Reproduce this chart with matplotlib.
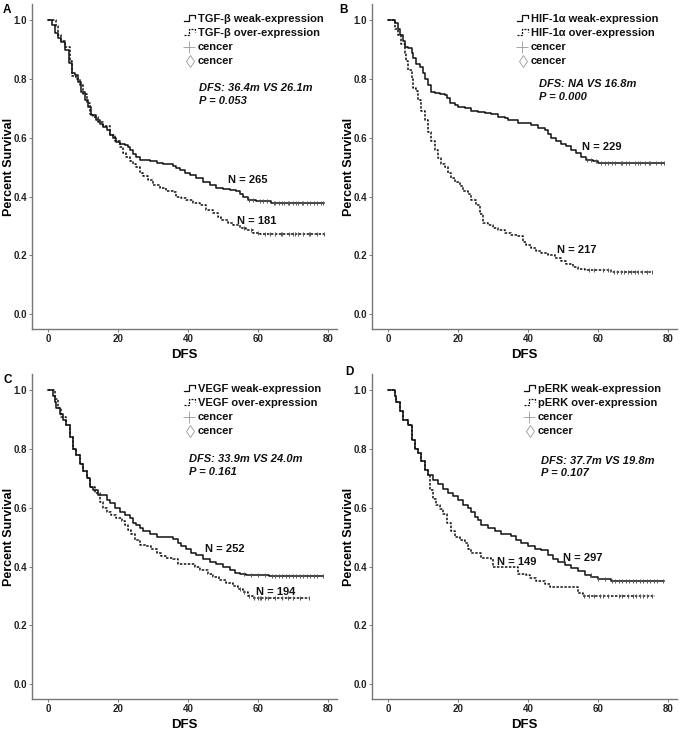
import numpy as np
import matplotlib.pyplot as plt

# ── Style ─────────────────────────────────────────────────────────────────────
plt.rcParams.update({
    "font.family":      ["Liberation Sans", "DejaVu Sans"],
    "font.weight":      "bold",
    "axes.linewidth":   1.0,
    "axes.edgecolor":   "#777777",
    "axes.spines.top":  False,
    "axes.spines.right": False,
    "xtick.major.size": 2,
    "ytick.major.size": 2,
    "xtick.color":      "#666666",
    "ytick.color":      "#666666",
})

# ── Data (months, survival fraction) ─────────────────────────────────────────
A_WEAK_T = [0, 1.2, 1.9, 2.9, 3.8, 4.8, 6.0, 6.7, 7.6, 8.6, 9.5, 10.5, 11.4, 12.4, 13.8,
            14.8, 15.7, 16.7, 17.6, 18.6, 19.5, 20.5, 21.9, 22.9, 23.3, 24.3, 25.2, 26.2,
            27.1, 29.0, 31.0, 32.9, 35.7, 36.7, 37.6, 39.0, 40.5, 42.4, 44.3, 46.2, 48.1,
            50.0, 51.9, 53.8, 54.8, 55.7, 57.1, 59.5, 63.8]
A_WEAK_S = [1.0, 0.983, 0.955, 0.938, 0.926, 0.898, 0.853, 0.82, 0.813, 0.79, 0.756, 0.728,
            0.705, 0.677, 0.66, 0.648, 0.637, 0.626, 0.609, 0.598, 0.586, 0.578, 0.575, 0.57,
            0.558, 0.544, 0.535, 0.526, 0.524, 0.522, 0.515, 0.51, 0.505, 0.499, 0.49, 0.481,
            0.473, 0.462, 0.45, 0.439, 0.431, 0.425, 0.422, 0.418, 0.41, 0.399, 0.388, 0.385,
            0.38]
A_WEAK_END = 79.0
A_WEAK_CENS = [57.5, 58.5, 60.5, 61.5, 62.5, 64.5, 65, 66, 67, 67.5, 68.5, 69, 70, 71, 71.5,
               72.5, 73, 74, 75, 76, 77, 78, 78.7]

A_OVER_T = [0, 2.4, 2.9, 3.8, 4.8, 6.2, 6.7, 8.1, 9.0, 10.0, 11.1, 11.9, 12.9, 14.3, 15.7,
            17.6, 19.0, 20.5, 21.4, 22.4, 23.3, 24.3, 25.2, 26.2, 27.1, 28.6, 30.0, 31.9,
            33.8, 35.7, 36.7, 38.1, 39.5, 41.4, 43.3, 45.2, 47.1, 48.6, 49.5, 51.4, 52.9,
            54.8, 56.7, 58.6, 60.5]
A_OVER_S = [1.0, 0.98, 0.95, 0.93, 0.91, 0.86, 0.81, 0.80, 0.78, 0.75, 0.72, 0.68, 0.67,
            0.655, 0.64, 0.61, 0.59, 0.57, 0.55, 0.535, 0.52, 0.51, 0.50, 0.48, 0.47, 0.455,
            0.44, 0.43, 0.42, 0.415, 0.40, 0.395, 0.39, 0.38, 0.37, 0.355, 0.345, 0.33, 0.32,
            0.31, 0.305, 0.295, 0.285, 0.278, 0.272]
A_OVER_END = 79.0
A_OVER_CENS = [56, 58, 60, 62, 63.5, 65, 66.5, 67, 69, 70, 70.5, 71.5, 73, 74.5, 75, 77, 79]

B_WEAK_T = [0, 1.9, 2.9, 3.3, 4.3, 4.8, 5.7, 6.7, 7.1, 8.1, 9.0, 10.0, 10.5, 11.4, 12.2,
            13.3, 14.8, 16.2, 16.7, 17.6, 19.0, 20.0, 21.9, 23.8, 25.7, 27.6, 29.5, 31.4,
            33.3, 34.3, 37.1, 39.0, 41.0, 42.9, 44.8, 45.7, 46.7, 48.1, 49.5, 51.0, 52.4,
            53.8, 55.2, 56.7, 58.6, 60.0]
B_WEAK_S = [1.0, 0.99, 0.97, 0.95, 0.93, 0.91, 0.905, 0.89, 0.87, 0.85, 0.84, 0.82, 0.80,
            0.78, 0.756, 0.753, 0.75, 0.745, 0.735, 0.72, 0.71, 0.705, 0.70, 0.69, 0.688,
            0.685, 0.68, 0.672, 0.668, 0.66, 0.652, 0.65, 0.642, 0.635, 0.625, 0.612, 0.60,
            0.59, 0.58, 0.572, 0.56, 0.55, 0.535, 0.525, 0.52, 0.515]
B_WEAK_END = 79.0
B_WEAK_CENS = [57, 58, 59.5, 61, 62, 63, 64, 65, 66.5, 67, 68, 69, 70.5, 71.5, 72, 73.5,
               74.5, 75, 76.5, 78, 79]

B_OVER_T = [0, 1.9, 2.9, 3.8, 4.8, 5.2, 5.7, 6.7, 7.1, 8.1, 8.6, 9.5, 10.5, 11.4, 12.4,
            13.3, 14.3, 15.2, 16.2, 17.1, 18.1, 19.0, 20.5, 21.4, 22.9, 23.8, 25.2, 26.2,
            27.1, 28.6, 30.0, 31.4, 33.3, 35.2, 37.1, 38.6, 39.5, 41.0, 42.4, 43.8, 45.7,
            47.6, 49.5, 51.0, 52.9, 54.3, 56.2, 60.0, 63.8]
B_OVER_S = [1.0, 0.97, 0.95, 0.92, 0.89, 0.86, 0.83, 0.80, 0.77, 0.76, 0.73, 0.69, 0.66,
            0.62, 0.59, 0.56, 0.53, 0.51, 0.50, 0.48, 0.465, 0.45, 0.435, 0.42, 0.41, 0.39,
            0.37, 0.34, 0.31, 0.305, 0.295, 0.285, 0.275, 0.27, 0.265, 0.245, 0.235, 0.225,
            0.215, 0.21, 0.20, 0.19, 0.18, 0.17, 0.16, 0.155, 0.152, 0.15, 0.145]
B_OVER_END = 75.7
B_OVER_CENS = [57.5, 59, 61.5, 63, 64.5, 65.5, 66.5, 67.5, 68.5, 69.5, 70.5, 71.5, 72.5,
               74, 75.5]

C_WEAK_T = [0, 1.4, 1.9, 2.4, 3.3, 4.3, 5.2, 6.2, 7.0, 8.1, 9.0, 10.0, 11.1, 11.9, 12.9,
            14.3, 16.7, 17.6, 19.0, 20.5, 21.9, 23.3, 24.3, 25.2, 26.2, 27.1, 29.0, 31.0,
            33.8, 35.7, 37.1, 38.1, 39.5, 41.0, 42.4, 44.3, 46.2, 48.1, 50.0, 51.9, 53.3,
            54.8, 56.7, 63.3]
C_WEAK_S = [1.0, 0.98, 0.96, 0.94, 0.92, 0.90, 0.88, 0.84, 0.80, 0.78, 0.75, 0.725, 0.70,
            0.67, 0.66, 0.645, 0.625, 0.615, 0.60, 0.585, 0.575, 0.565, 0.55, 0.54, 0.53,
            0.52, 0.51, 0.502, 0.50, 0.495, 0.48, 0.47, 0.46, 0.445, 0.44, 0.425, 0.415,
            0.41, 0.40, 0.39, 0.38, 0.375, 0.372, 0.368]
C_WEAK_END = 78.6
C_WEAK_CENS = [56, 58, 60, 62, 64, 65, 66, 67, 68, 69, 70, 71, 72, 73, 74, 75, 76, 77, 78.5]

C_OVER_T = [0, 1.9, 2.9, 3.8, 5.2, 6.2, 7.0, 8.1, 9.0, 10.0, 11.1, 11.9, 13.3, 14.8, 15.7,
            16.7, 18.1, 19.5, 21.0, 21.9, 22.9, 23.8, 24.8, 26.2, 28.1, 29.5, 31.0, 32.4,
            33.8, 35.7, 37.1, 39.5, 41.9, 43.3, 45.7, 47.1, 49.0, 51.0, 52.9, 54.3, 55.7,
            57.1, 58.6]
C_OVER_S = [1.0, 0.97, 0.94, 0.91, 0.88, 0.84, 0.80, 0.78, 0.75, 0.725, 0.70, 0.67, 0.65,
            0.62, 0.60, 0.585, 0.575, 0.565, 0.555, 0.54, 0.525, 0.51, 0.49, 0.475, 0.47,
            0.46, 0.445, 0.435, 0.43, 0.425, 0.41, 0.408, 0.40, 0.39, 0.375, 0.365, 0.355,
            0.345, 0.335, 0.325, 0.315, 0.30, 0.293]
C_OVER_END = 74.8
C_OVER_CENS = [55, 56, 57.5, 59, 60, 60.5, 61, 62, 63, 65, 67, 68.5, 70, 72, 74.5]

D_WEAK_T = [0, 1.9, 2.4, 3.3, 4.3, 5.7, 6.7, 7.6, 8.6, 9.5, 10.5, 11.4, 12.9, 14.3, 15.7,
            17.1, 18.6, 20.0, 21.4, 22.9, 23.8, 24.8, 25.7, 26.7, 28.6, 30.5, 32.4, 35.2,
            36.7, 38.1, 40.0, 41.9, 43.8, 45.7, 47.1, 48.6, 50.5, 52.4, 54.3, 56.2, 58.1,
            60.0, 63.8]
D_WEAK_S = [1.0, 0.98, 0.96, 0.93, 0.90, 0.88, 0.83, 0.80, 0.785, 0.76, 0.73, 0.71, 0.695,
            0.68, 0.665, 0.65, 0.64, 0.625, 0.61, 0.60, 0.585, 0.57, 0.56, 0.54, 0.53, 0.52,
            0.51, 0.505, 0.49, 0.48, 0.47, 0.46, 0.455, 0.44, 0.425, 0.415, 0.405, 0.395,
            0.385, 0.37, 0.365, 0.357, 0.352]
D_WEAK_END = 79.0
D_WEAK_CENS = [58, 60, 62, 64, 65, 66, 67, 68, 69, 70, 71, 72, 73, 74, 75, 76, 77, 78.5]

D_OVER_T = [0, 1.9, 2.4, 3.3, 4.3, 5.7, 6.7, 7.6, 8.6, 9.5, 10.5, 11.4, 11.9, 12.9, 13.8,
            14.8, 15.7, 16.7, 18.1, 19.0, 20.5, 21.9, 22.9, 23.8, 26.7, 29.5, 30.0, 37.1,
            39.5, 40.5, 42.4, 44.8, 46.2, 54.3, 55.7]
D_OVER_S = [1.0, 0.98, 0.96, 0.93, 0.90, 0.88, 0.83, 0.80, 0.785, 0.76, 0.73, 0.71, 0.66,
            0.63, 0.61, 0.595, 0.58, 0.55, 0.52, 0.50, 0.49, 0.48, 0.46, 0.445, 0.43, 0.425,
            0.40, 0.375, 0.37, 0.36, 0.35, 0.34, 0.33, 0.31, 0.30]
D_OVER_END = 76.2
D_OVER_CENS = [56, 57.5, 59, 60.5, 61.5, 63, 66, 67, 68.5, 70, 71, 72, 73, 74, 75.5]

MARKERS = ["TGF-β", "HIF-1α", "VEGF", "pERK"]
STATS = ["DFS: 36.4m VS 26.1m\nP = 0.053", "DFS: NA VS 16.8m\nP = 0.000",
         "DFS: 33.9m VS 24.0m\nP = 0.161", "DFS: 37.7m VS 19.8m\nP = 0.107"]
N_WEAK = [265, 229, 252, 297]
N_OVER = [181, 217, 194, 149]
LETTERS = ["A", "B", "C", "D"]

# ── Layout (pixels) ──────────────────────────────────────────────────────────
W, H, DPI = 689, 730, 100
AX_W, AX_H = 305, 325
AX_LEFT = [32, 372, 32, 372]
AX_BOTTOM = [329, 329, 699, 699]            # pixel row of x-axis
LEG_X = [0.544, 0.52, 0.544, 0.544]
STAT_POS = [(0.548, 0.756), (0.548, 0.768), (0.515, 0.753), (0.554, 0.749)]
N_WEAK_POS = [(51.4, 0.456), (55.4, 0.57), (44.9, 0.461), (50.0, 0.43)]
N_OVER_POS = [(54.0, 0.316), (48.3, 0.217), (59.4, 0.315), (31.1, 0.417)]
LETTER_POS = [(7, 10), (343, 10), (8, 380), (349, 372)]

CURVES = [
    ((A_WEAK_T, A_WEAK_S, A_WEAK_END, A_WEAK_CENS), (A_OVER_T, A_OVER_S, A_OVER_END, A_OVER_CENS)),
    ((B_WEAK_T, B_WEAK_S, B_WEAK_END, B_WEAK_CENS), (B_OVER_T, B_OVER_S, B_OVER_END, B_OVER_CENS)),
    ((C_WEAK_T, C_WEAK_S, C_WEAK_END, C_WEAK_CENS), (C_OVER_T, C_OVER_S, C_OVER_END, C_OVER_CENS)),
    ((D_WEAK_T, D_WEAK_S, D_WEAK_END, D_WEAK_CENS), (D_OVER_T, D_OVER_S, D_OVER_END, D_OVER_CENS)),
]

DOT = (0, (1.6, 1.0))


def draw_km(ax, curve, ls):
    t, s, t_end, cens = curve
    t = np.asarray(t + [t_end])
    s = np.asarray(s + [s[-1]])
    ax.plot(t, s, drawstyle="steps-post", color="#111111", lw=1.1, ls=ls)
    idx = np.searchsorted(t, cens, side="right") - 1
    ax.plot(cens, s[idx], ls="none", marker="|", ms=3.5, mew=0.7, color="#555555")


def draw_legend(ax, lx, label):
    px, py = 1.0 / AX_W, 1.0 / AX_H
    rows = [0.954, 0.912, 0.868, 0.825]
    texts = [f"{label} weak-expression", f"{label} over-expression", "cencer", "cencer"]
    for y, txt in zip(rows, texts):
        ax.text(lx, y, txt, transform=ax.transAxes, fontsize=8, fontweight="bold",
                ha="left", va="center", color="#111111")
    # step icons
    xs = [lx - 14 * px, lx - 9 * px, lx - 9 * px, lx - 3 * px, lx - 3 * px]
    for y, ls in zip(rows[:2], ["-", DOT]):
        ys = [y - 2.5 * py, y - 2.5 * py, y + 3.5 * py, y + 3.5 * py, y + 0.5 * py]
        ax.plot(xs, ys, transform=ax.transAxes, color="#111111", lw=0.9, ls=ls,
                clip_on=False)
    ax.plot([lx - 9 * px], [rows[2]], transform=ax.transAxes, marker="+", ms=8,
            mew=0.6, color="#999999", clip_on=False)
    ax.plot([lx - 8 * px], [rows[3]], transform=ax.transAxes, marker="d", ms=6,
            mew=0.6, mfc="none", color="#999999", clip_on=False)


fig = plt.figure(figsize=(W / DPI, H / DPI), dpi=DPI)

for i in range(4):
    rect = [AX_LEFT[i] / W, (H - AX_BOTTOM[i]) / H, AX_W / W, AX_H / H]
    ax = fig.add_axes(rect)
    weak, over = CURVES[i]
    draw_km(ax, over, DOT)
    draw_km(ax, weak, "-")

    ax.set_xlim(-4.6, 82.6)
    ax.set_ylim(-0.05, 1.055)
    ax.set_xticks([0, 20, 40, 60, 80])
    ax.set_yticks([0.0, 0.2, 0.4, 0.6, 0.8, 1.0])
    ax.set_yticklabels(["0.0", "0.2", "0.4", "0.6", "0.8", "1.0"])
    ax.tick_params(labelsize=7, labelcolor="#222222", width=0.6, pad=1.5)
    for lab in ax.get_xticklabels() + ax.get_yticklabels():
        lab.set_fontweight("bold")

    ax.set_xlabel("DFS", fontsize=9.5, fontweight="bold")
    ax.xaxis.set_label_coords(0.5, -0.062)
    ax.set_ylabel("Percent Survival", fontsize=9, fontweight="bold")
    ax.yaxis.set_label_coords(-0.056, 0.5)

    draw_legend(ax, LEG_X[i], MARKERS[i])
    ax.text(*STAT_POS[i], STATS[i], transform=ax.transAxes, fontsize=8,
            fontweight="bold", fontstyle="italic", ha="left", va="top",
            linespacing=1.3, color="#111111")
    ax.text(*N_WEAK_POS[i], f"N = {N_WEAK[i]}", fontsize=8, fontweight="bold",
            ha="left", va="center", color="#111111")
    ax.text(*N_OVER_POS[i], f"N = {N_OVER[i]}", fontsize=8, fontweight="bold",
            ha="left", va="center", color="#111111")

    lx, ly = LETTER_POS[i]
    fig.text(lx / W, 1 - ly / H, LETTERS[i], fontsize=8.5, fontweight="bold",
             ha="center", va="center")

fig.savefig("out.png", dpi=DPI)
